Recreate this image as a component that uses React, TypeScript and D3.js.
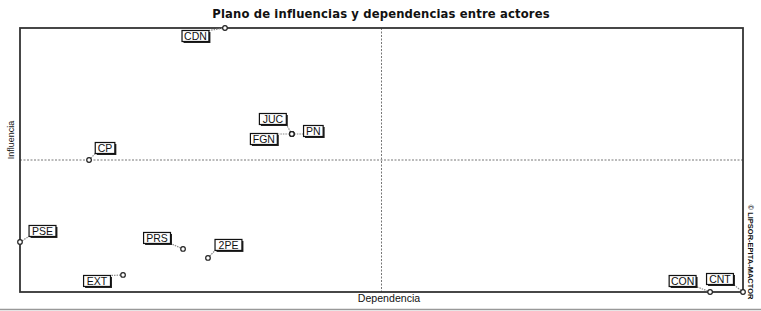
import React from "react";
import * as d3 from "d3";

const actors = ["CDN", "JUC", "PN", "FGN", "CP", "PSE", "PRS", "2PE", "EXT", "CON", "CNT"];
const dependencia = [0.567, 0.752, 0.752, 0.752, 0.191, 0.0, 0.451, 0.52, 0.285, 1.909, 2.0];
const influencia = [2.0, 1.197, 1.197, 1.197, 1.0, 0.379, 0.326, 0.258, 0.129, 0.0, 0.0];
// label box centre offsets relative to the point (layout only)
const labelDx = [-29.5, -19, 21.5, -28, 16, 22.5, -26, 20.5, -26, -27.5, -23];
const labelDy = [8, -15, -3, 5, -12, -11, -11, -13, 6, -11, -13];

const title = "Plano de influencias y dependencias entre actores";
const xTitle = "Dependencia";
const yTitle = "Influencia";
const credit = "© LIPSOR-EPITA-MACTOR";

const W = 761;
const H = 311;
const L = 20, R = 743, T = 28, B = 292;

export default function App() {
  const x = d3.scaleLinear().domain([0, 2]).range([L, R]);
  const y = d3.scaleLinear().domain([0, 2]).range([B, T]);
  const midX = x(1);
  const midY = y(1);
  const charW = 7.3;

  return (
    <svg width={W} height={H} style={{ position: "absolute", left: 0, top: 0, background: "#fff" }}>
      <rect x={0} y={0} width={W} height={H} fill="#fff" />
      <text x={381} y={18} textAnchor="middle" fontFamily="DejaVu Sans, sans-serif" fontWeight="bold" fontSize={11.6} letterSpacing={0.15} fill="#111">{title}</text>
      {/* midlines */}
      <line x1={midX} x2={midX} y1={T} y2={B} stroke="#777" strokeDasharray="2,1.5" strokeWidth={1} />
      <line x1={L} x2={R} y1={midY} y2={midY} stroke="#777" strokeDasharray="2,1.5" strokeWidth={1} />
      {/* frame */}
      <rect x={L} y={T} width={R - L} height={B - T} fill="none" stroke="#333" strokeWidth={1.8} />
      {/* axis titles */}
      <text x={389} y={302} textAnchor="middle" fontFamily="Liberation Sans, Arial, sans-serif" fontSize={10.6} fill="#111">{xTitle}</text>
      <text transform={`translate(14,${140}) rotate(-90)`} textAnchor="middle" fontFamily="Liberation Sans, Arial, sans-serif" fontSize={9} fill="#111">{yTitle}</text>
      <text transform={`translate(748,${252}) rotate(90)`} textAnchor="middle" fontFamily="Liberation Sans, Arial, sans-serif" fontWeight="bold" fontSize={7.5} fill="#111">{credit}</text>
      {/* bottom separator */}
      <line x1={0} x2={W} y1={309.5} y2={309.5} stroke="#999" strokeWidth={1.5} />
      {actors.map((a, i) => {
        const px = x(dependencia[i]);
        const py = y(influencia[i]);
        const bw = a.length * charW + 5;
        const bh = 11;
        const cx = px + labelDx[i];
        const cy = py + labelDy[i];
        const bx = cx - bw / 2;
        const by = cy - bh / 2;
        const ex = Math.max(bx, Math.min(bx + bw, px));
        const ey = Math.max(by, Math.min(by + bh, py));
        return (
          <g key={a}>
            <line x1={px} y1={py} x2={ex} y2={ey} stroke="#888" strokeWidth={1.2} strokeDasharray="1.5,1" />
            <rect x={bx + 1.5} y={by + 1.5} width={bw} height={bh} fill="#222" />
            <rect x={bx} y={by} width={bw} height={bh} fill="#fff" stroke="#111" strokeWidth={1.2} />
            <text x={cx} y={cy + 3.8} textAnchor="middle" fontFamily="Liberation Sans, Arial, sans-serif" fontSize={10.5} fill="#111">{a}</text>
            <circle cx={px} cy={py} r={2.3} fill="#fff" stroke="#222" strokeWidth={1.2} />
          </g>
        );
      })}
    </svg>
  );
}
